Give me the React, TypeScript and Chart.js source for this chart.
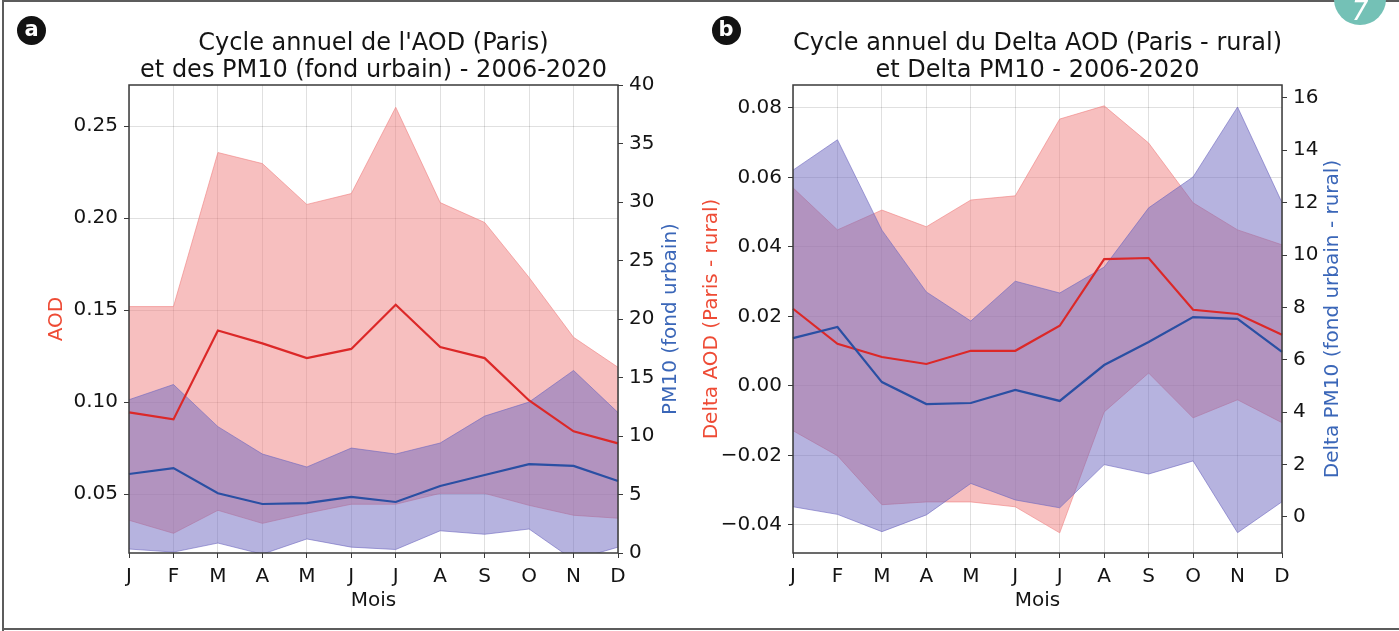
import React, { useEffect, useRef } from 'react';
import { Chart, registerables } from 'chart.js';

Chart.register(...registerables);

// ---------- data ----------
const MONTHS = ['J', 'F', 'M', 'A', 'M', 'J', 'J', 'A', 'S', 'O', 'N', 'D'];

// Panel a : AOD (Paris) and PM10 (fond urbain)
const AOD_MEAN = [0.0945, 0.0907, 0.139, 0.132, 0.124, 0.129, 0.153, 0.130, 0.124, 0.101, 0.0842, 0.0777];
const AOD_UPPER = [0.152, 0.152, 0.2357, 0.2297, 0.2075, 0.2134, 0.2603, 0.2085, 0.1977, 0.1678, 0.1353, 0.119];
const AOD_LOWER = [0.0359, 0.0288, 0.0413, 0.0342, 0.0397, 0.0446, 0.0446, 0.0505, 0.0505, 0.044, 0.0386, 0.037];
const PM10_MEAN = [6.75, 7.26, 5.1, 4.19, 4.27, 4.8, 4.36, 5.73, 6.67, 7.6, 7.44, 6.15];
const PM10_UPPER = [13.1, 14.4, 10.8, 8.46, 7.35, 8.97, 8.46, 9.4, 11.7, 12.9, 15.6, 12.0];
const PM10_LOWER = [0.34, 0.08, 0.85, -0.1, 1.2, 0.5, 0.3, 1.9, 1.6, 2.05, -0.6, 0.5];

// Panel b : Delta AOD (Paris - rural) and Delta PM10 (fond urbain - rural)
const DAOD_MEAN = [0.0222, 0.0121, 0.0083, 0.0063, 0.0101, 0.0101, 0.0173, 0.0365, 0.0368, 0.0219, 0.0207, 0.0147];
const DAOD_UPPER = [0.057, 0.0449, 0.0506, 0.0458, 0.0535, 0.0547, 0.0768, 0.0806, 0.0699, 0.0527, 0.0449, 0.0406];
const DAOD_LOWER = [-0.0129, -0.0201, -0.0342, -0.0334, -0.0334, -0.0348, -0.0423, -0.0075, 0.0037, -0.0092, -0.004, -0.0106];
const DPM10_MEAN = [6.83, 7.25, 5.15, 4.31, 4.35, 4.85, 4.43, 5.8, 6.68, 7.63, 7.56, 6.3];
const DPM10_UPPER = [13.24, 14.4, 10.95, 8.59, 7.48, 9.0, 8.55, 9.54, 11.8, 12.98, 15.65, 12.0];
const DPM10_LOWER = [0.39, 0.10, -0.56, 0.08, 1.28, 0.65, 0.35, 2.0, 1.64, 2.14, -0.6, 0.58];

// tick labels / axis ranges
const AOD_TICKS = [0.05, 0.10, 0.15, 0.20, 0.25];
const PM10_TICKS = [0, 5, 10, 15, 20, 25, 30, 35, 40];
const DAOD_TICKS = [-0.04, -0.02, 0, 0.02, 0.04, 0.06, 0.08];
const DPM10_TICKS = [0, 2, 4, 6, 8, 10, 12, 14, 16];
const AOD_RANGE = [0.0181, 0.2724];
const PM10_RANGE = [0, 40];
const DAOD_RANGE = [-0.0481, 0.0866];
const DPM10_RANGE = [-1.375, 16.49];

const TITLE_A = ["Cycle annuel de l'AOD (Paris)", 'et des PM10 (fond urbain) - 2006-2020'];
const TITLE_B = ['Cycle annuel du Delta AOD (Paris - rural)', 'et Delta PM10 - 2006-2020'];

// ---------- styles ----------
const FONT = 'DejaVu Sans';
const RED_LINE = '#dc2828';
const BLUE_LINE = '#2a4fa3';
const RED_FILL = 'rgba(240,128,128,0.5)';
const BLUE_FILL = 'rgba(110,104,192,0.5)';
const RED_EDGE = 'rgba(240,128,128,0.6)';
const BLUE_EDGE = 'rgba(110,104,192,0.6)';
const RED_LABEL = '#ee4b35';
const BLUE_LABEL = '#3a66b8';
const TEXT = '#141414';
const SPINE = '#3a3a3a';
const GRID = 'rgba(0,0,0,0.12)';

const fmt2 = (v: number) => (v < 0 ? '\u2212' + Math.abs(v).toFixed(2) : Math.abs(v).toFixed(2));
const fmt0 = (v: number) => (v < 0 ? '\u2212' + Math.abs(v).toFixed(0) : v.toFixed(0));

const framePlugin = {
  id: 'frame',
  afterDatasetsDraw(chart: any) {
    const { ctx, chartArea: a } = chart;
    ctx.save();
    ctx.strokeStyle = SPINE;
    ctx.lineWidth = 1.5;
    ctx.strokeRect(a.left, a.top, a.right - a.left, a.bottom - a.top);
    ctx.restore();
  },
};

const rightTitlePlugin = {
  id: 'rightTitle',
  afterDraw(chart: any, _args: any, opts: any) {
    const { ctx, chartArea: a } = chart;
    ctx.save();
    ctx.translate(opts.x, (a.top + a.bottom) / 2);
    ctx.rotate(-Math.PI / 2);
    ctx.font = `20px "${FONT}"`;
    ctx.fillStyle = opts.color;
    ctx.textAlign = 'center';
    ctx.textBaseline = 'middle';
    ctx.fillText(opts.text, 0, 0);
    ctx.restore();
  },
};

type PanelProps = {
  left: number;
  width: number;
  title: string[];
  leftTitle: string;
  rightTitle: string;
  leftRange: number[];
  rightRange: number[];
  leftTicks: number[];
  rightTicks: number[];
  mean1: number[];
  upper1: number[];
  lower1: number[];
  mean2: number[];
  upper2: number[];
  lower2: number[];
  leftAxisW: number;
  rightAxisW: number;
  leftTitlePad: number;
  rightTitleX: number;
};

function Panel(p: PanelProps) {
  const ref = useRef<HTMLCanvasElement | null>(null);
  useEffect(() => {
    if (!ref.current) return;
    const tickFont = { family: FONT, size: 20 };
    const chart = new Chart(ref.current, {
      type: 'line',
      data: {
        labels: MONTHS,
        datasets: [
          { data: p.upper1, yAxisID: 'y', fill: '+1', backgroundColor: RED_FILL, borderColor: RED_EDGE, borderWidth: 1, pointRadius: 0, order: 4 },
          { data: p.lower1, yAxisID: 'y', fill: false, borderColor: RED_EDGE, borderWidth: 1, pointRadius: 0, order: 4 },
          { data: p.upper2, yAxisID: 'y1', fill: '+1', backgroundColor: BLUE_FILL, borderColor: BLUE_EDGE, borderWidth: 1, pointRadius: 0, order: 3 },
          { data: p.lower2, yAxisID: 'y1', fill: false, borderColor: BLUE_EDGE, borderWidth: 1, pointRadius: 0, order: 3 },
          { data: p.mean1, yAxisID: 'y', fill: false, borderColor: RED_LINE, borderWidth: 2.2, pointRadius: 0, order: 1 },
          { data: p.mean2, yAxisID: 'y1', fill: false, borderColor: BLUE_LINE, borderWidth: 2.2, pointRadius: 0, order: 0 },
        ] as any,
      },
      options: {
        animation: false,
        responsive: false,
        devicePixelRatio: 1,
        layout: { padding: 0 },
        elements: { line: { tension: 0 } },
        plugins: {
          legend: { display: false },
          tooltip: { enabled: false },
          title: {
            display: true,
            text: p.title,
            color: TEXT,
            fullSize: false,
            font: { family: FONT, size: 24, weight: 'normal', lineHeight: 1.125 },
            padding: { top: 30, bottom: 1 },
          },
          rightTitle: { x: p.rightTitleX, text: p.rightTitle, color: BLUE_LABEL },
        } as any,
        scales: {
          x: {
            type: 'category',
            offset: false,
            grid: { color: GRID, tickColor: SPINE, tickLength: 5, lineWidth: 1 },
            border: { display: false },
            ticks: { font: tickFont, color: TEXT, padding: 7, maxRotation: 0, autoSkip: false },
            title: { display: true, text: 'Mois', color: TEXT, font: { family: FONT, size: 20 }, padding: { top: 0, bottom: 18 } },
            afterFit: (s: any) => { s.height = 78; },
          },
          y: {
            position: 'left',
            min: p.leftRange[0],
            max: p.leftRange[1],
            afterBuildTicks: (s: any) => { s.ticks = p.leftTicks.map((v) => ({ value: v })); },
            grid: { color: GRID, tickColor: SPINE, tickLength: 5, lineWidth: 1 },
            border: { display: false },
            ticks: { font: tickFont, color: TEXT, padding: 6, callback: (v: any) => fmt2(Number(v)) },
            title: { display: true, text: p.leftTitle, color: RED_LABEL, font: { family: FONT, size: 20 }, padding: { top: p.leftTitlePad, bottom: 0 } },
            afterFit: (s: any) => { s.width = p.leftAxisW; },
          },
          y1: {
            position: 'right',
            min: p.rightRange[0],
            max: p.rightRange[1],
            afterBuildTicks: (s: any) => { s.ticks = p.rightTicks.map((v) => ({ value: v })); },
            grid: { drawOnChartArea: false, tickColor: SPINE, tickLength: 5 },
            border: { display: false },
            ticks: { font: tickFont, color: TEXT, padding: 6, callback: (v: any) => fmt0(Number(v)) },
            afterFit: (s: any) => { s.width = p.rightAxisW; },
          },
        } as any,
      },
      plugins: [framePlugin, rightTitlePlugin],
    } as any);
    return () => chart.destroy();
  }, []);
  return (
    <canvas
      ref={ref}
      width={p.width}
      height={631}
      style={{ position: 'absolute', left: p.left, top: 0, width: p.width, height: 631 }}
    />
  );
}

function Badge({ x, y, letter }: { x: number; y: number; letter: string }) {
  return (
    <div
      style={{
        position: 'absolute', left: x - 14.5, top: y - 14.5, width: 29, height: 29, borderRadius: '50%',
        background: '#121212', color: '#fff', fontFamily: FONT, fontWeight: 'bold', fontSize: 21,
        lineHeight: '27px', textAlign: 'center',
      }}
    >
      {letter}
    </div>
  );
}

export default function App() {
  return (
    <div style={{ position: 'absolute', left: 0, top: 0, width: 1399, height: 631, overflow: 'hidden', background: '#fff' }}>
      <div style={{ position: 'absolute', left: 2, top: 0, width: 1440, height: 2, background: '#5c5c5c' }} />
      <div style={{ position: 'absolute', left: 2, top: 0, width: 2, height: 631, background: '#5c5c5c' }} />
      <div style={{ position: 'absolute', left: 2, top: 628, width: 1440, height: 2, background: '#5c5c5c' }} />
      <Panel
        left={0}
        width={700}
        title={TITLE_A}
        leftTitle="AOD"
        rightTitle="PM10 (fond urbain)"
        leftRange={AOD_RANGE}
        rightRange={PM10_RANGE}
        leftTicks={AOD_TICKS}
        rightTicks={PM10_TICKS}
        mean1={AOD_MEAN}
        upper1={AOD_UPPER}
        lower1={AOD_LOWER}
        mean2={PM10_MEAN}
        upper2={PM10_UPPER}
        lower2={PM10_LOWER}
        leftAxisW={129}
        rightAxisW={82}
        leftTitlePad={45}
        rightTitleX={671}
      />
      <Panel
        left={698}
        width={701}
        title={TITLE_B}
        leftTitle="Delta AOD (Paris - rural)"
        rightTitle="Delta PM10 (fond urbain - rural)"
        leftRange={DAOD_RANGE}
        rightRange={DPM10_RANGE}
        leftTicks={DAOD_TICKS}
        rightTicks={DPM10_TICKS}
        mean1={DAOD_MEAN}
        upper1={DAOD_UPPER}
        lower1={DAOD_LOWER}
        mean2={DPM10_MEAN}
        upper2={DPM10_UPPER}
        lower2={DPM10_LOWER}
        leftAxisW={95}
        rightAxisW={117}
        leftTitlePad={2}
        rightTitleX={635}
      />
      <Badge x={31.5} y={30} letter="a" />
      <Badge x={726} y={30} letter="b" />
      <div
        style={{
          position: 'absolute', left: 1334, top: -27, width: 52, height: 52, borderRadius: '50%',
          background: '#74c1b6', color: '#fff', fontFamily: FONT, fontStyle: 'italic', fontSize: 26,
          lineHeight: '52px', textAlign: 'center', paddingTop: 12, boxSizing: 'border-box',
        }}
      >
        7
      </div>
    </div>
  );
}
